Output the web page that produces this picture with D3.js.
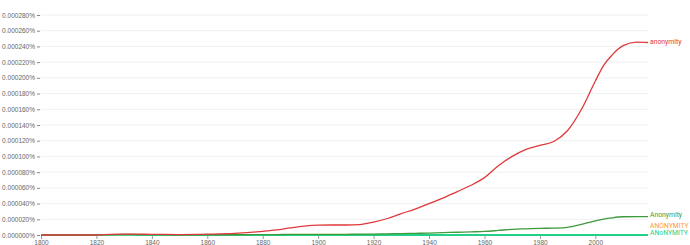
<!DOCTYPE html>
<html>
<head>
<meta charset="utf-8">
<script src="https://cdn.jsdelivr.net/npm/d3@7"></script>
<style>
body{margin:0;background:#fff;font-family:Roboto,"Noto Sans",sans-serif;}
</style>
</head>
<body>
<div id="chart"></div>
<script>
// values in thousandths of a percent (0.245 -> 0.000245%)
var years = [1800,1810,1820,1825,1830,1835,1840,1850,1860,1870,1880,1885,1890,1895,1900,1905,1910,1915,1920,1925,1930,1935,1940,1945,1950,1955,1960,1965,1970,1975,1980,1985,1990,1995,2000,2003,2006,2010,2015,2019];
var anonymity = [0,0,0,0.0008,0.001,0.001,0.0009,0.0005,0.001,0.002,0.0045,0.0065,0.009,0.0112,0.0125,0.0127,0.0127,0.0132,0.0165,0.021,0.0272,0.033,0.040,0.047,0.055,0.063,0.073,0.088,0.1,0.109,0.114,0.119,0.133,0.16,0.196,0.216,0.229,0.241,0.2455,0.245];
var Anonymity = [0,0,0.0001,0.0006,0.0008,0.0006,0.0004,0.0002,0.0002,0.0003,0.0005,0.0006,0.0007,0.0008,0.0008,0.0008,0.0009,0.001,0.0012,0.0015,0.0018,0.0021,0.0025,0.003,0.0035,0.004,0.0045,0.0058,0.0072,0.0079,0.0085,0.0088,0.0098,0.0135,0.018,0.0202,0.0218,0.0232,0.0235,0.0233];
var ANONYMITY = [0,0,0,0,0.0001,0.0001,0,0,0,0,0,0,0,0,0,0,0,0,0,0,0,0,0,0,0,0,0,0,0,0,0,0,0,0,0.0001,0.0001,0.0001,0.0001,0.0001,0.0001];
var ANoNYMITY = [0.0002,0.0002,0.0002,0.0002,0.0001,0,0,0,0,0,0,0,0,0,0,0,0,0,0,0,0,0,0,0,0,0,0,0,0,0,0,0,0,0,0,0,0,0,0,0];
var names = ["anonymity","Anonymity","ANONYMITY","ANoNYMITY"];
var colors = ["#e0383b","#3d9a3d","#ff9a2e","#22d08a"];
var labelY = [42,215,225.5,232.5];
var yTicks = [0,0.02,0.04,0.06,0.08,0.10,0.12,0.14,0.16,0.18,0.20,0.22,0.24,0.26,0.28];
var xTicks = [1800,1820,1840,1860,1880,1900,1920,1940,1960,1980,2000];

var width = 690, height = 245;
var margin = {top:15, right:42, bottom:10, left:41};

var svg = d3.select("#chart")
    .append("svg")
    .attr("width", width)
    .attr("height", height);

var x = d3.scaleLinear()
    .domain([1800,2019])
    .range([margin.left, width - margin.right]);

var y = d3.scaleLinear()
    .domain([0,0.28])
    .range([height - margin.bottom, margin.top]);

// grid
svg.append("g")
    .selectAll("line")
    .data(yTicks)
    .enter().append("line")
    .attr("x1", x(1800))
    .attr("x2", x(2019))
    .attr("y1", function(d){return y(d);})
    .attr("y2", function(d){return y(d);})
    .style("stroke","#f0f0f0")
    .style("stroke-width","1px");

// y axis
var yAxis = svg.append("g")
    .attr("transform","translate(" + (margin.left - 1) + ",0)")
    .call(d3.axisLeft(y).tickValues(yTicks).tickSize(3).tickPadding(2)
        .tickFormat(function(d){return (d/1000).toFixed(6) + "%";}));
yAxis.select(".domain").remove();
yAxis.selectAll("text").style("font-size","6.5px").style("fill","#666");
yAxis.selectAll("line").style("stroke","#888");

// x axis
var xAxis = svg.append("g")
    .attr("transform","translate(0," + (height - margin.bottom + 1) + ")")
    .call(d3.axisBottom(x).tickValues(xTicks).tickSize(3).tickPadding(1)
        .tickFormat(d3.format("d")));
xAxis.select(".domain").remove();
xAxis.selectAll("text").style("font-size","6.5px").style("fill","#666");
xAxis.selectAll("line").style("stroke","#999");

var series = [anonymity, Anonymity, ANONYMITY, ANoNYMITY];
var drawOrder = [2,3,1,0];

var line = d3.line()
    .x(function(d){return x(d.year);})
    .y(function(d){return y(d.v);})
    .curve(d3.curveMonotoneX);

drawOrder.forEach(function(i){
    var data = years.map(function(yr, j){return {year: yr, v: series[i][j]};});
    svg.append("path")
        .data([data])
        .attr("d", line)
        .style("fill","none")
        .style("stroke", colors[i])
        .style("stroke-width", i == 3 ? "1.8px" : "1.3px");
});

svg.append("g")
    .selectAll("text")
    .data(names)
    .enter().append("text")
    .attr("x", x(2019) + 2)
    .attr("y", function(d,i){return labelY[i];})
    .attr("dy","0.35em")
    .text(function(d){return d;})
    .style("font-size","6.8px")
    .style("fill", function(d,i){return colors[i];});
</script>
</body>
</html>
